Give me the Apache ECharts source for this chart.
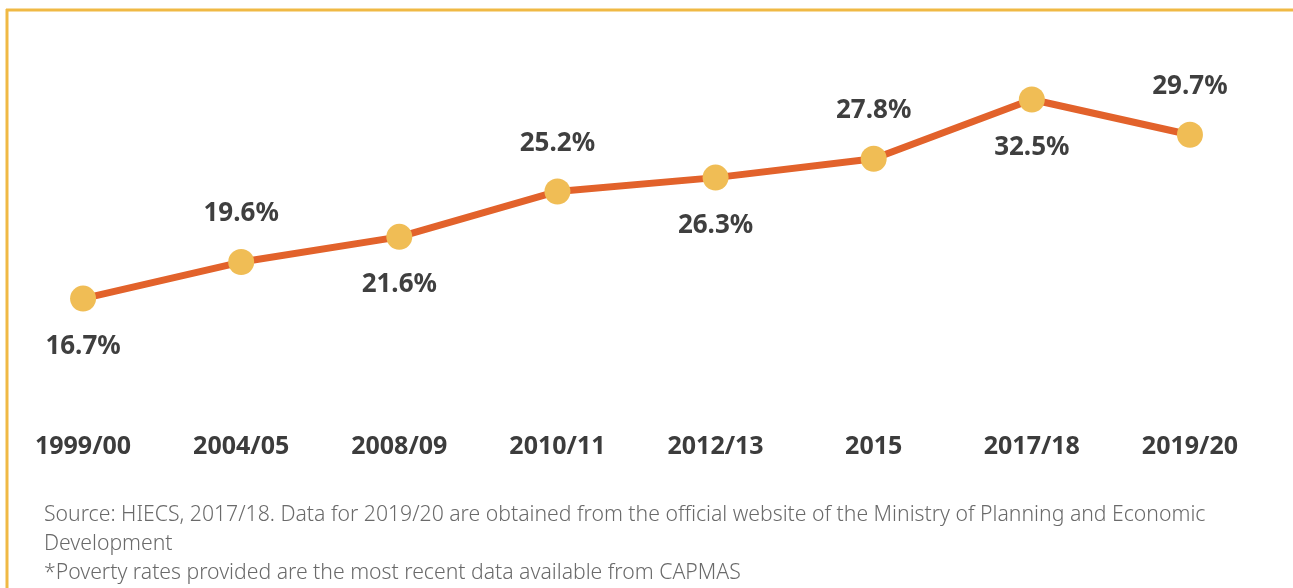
<!DOCTYPE html>
<html>
<head>
<meta charset="utf-8">
<script src="https://cdn.jsdelivr.net/npm/echarts@6/dist/echarts.min.js"></script>
<style>
html,body{margin:0;padding:0;background:#fff;}
#chart{width:1293px;height:588px;}
</style>
</head>
<body>
<div id="chart"></div>
<script>
const categories = ['1999/00','2004/05','2008/09','2010/11','2012/13','2015','2017/18','2019/20'];
const povertyRates = [16.7, 19.6, 21.6, 25.2, 26.3, 27.8, 32.5, 29.7];
const sourceLines = [
  'Source: HIECS, 2017/18. Data for 2019/20 are obtained from the official website of the Ministry of Planning and Economic',
  'Development',
  '*Poverty rates provided are the most recent data available from CAPMAS'
];

const chart = echarts.init(document.getElementById('chart'));
const font = '"Noto Sans", sans-serif';
const seriesData = povertyRates.map((v, i) => ({
  value: v,
  label: { position: i % 2 === 0 ? 'bottom' : 'top' }
}));

chart.setOption({
  animation: false,
  backgroundColor: '#ffffff',
  grid: { left: 4, right: 24, top: 68, bottom: 205, containLabel: false },
  xAxis: {
    type: 'category',
    data: categories,
    boundaryGap: true,
    axisLine: { show: false },
    axisTick: { show: false },
    splitLine: { show: false },
    axisLabel: {
      margin: 51,
      color: '#3c3c3c',
      fontFamily: font,
      fontWeight: 'bold',
      fontSize: 25,
      verticalAlign: 'top',
      lineHeight: 25
    }
  },
  yAxis: {
    type: 'value',
    min: 10,
    max: 35,
    show: false,
    splitLine: { show: false }
  },
  series: [{
    type: 'line',
    data: seriesData,
    symbol: 'circle',
    symbolSize: 26,
    lineStyle: { color: '#e2622b', width: 7 },
    itemStyle: { color: '#f0bd55', borderWidth: 0 },
    label: {
      show: true,
      distance: 22,
      color: '#3f3f3f',
      fontFamily: font,
      fontWeight: 'bold',
      fontSize: 26,
      formatter: p => p.value.toFixed(1) + '%'
    }
  }],
  graphic: [
    { type: 'line', shape: { x1: 6, y1: 10, x2: 1293, y2: 10 }, style: { stroke: '#f0b944', lineWidth: 3 } },
    { type: 'line', shape: { x1: 7, y1: 9, x2: 7, y2: 588 }, style: { stroke: '#f0b944', lineWidth: 3 } },
    {
      type: 'text', left: 44, top: 500,
      style: {
        text: sourceLines.join('\n'),
        fill: '#6a6a6a',
        font: '300 21.2px "Noto Sans", sans-serif',
        lineHeight: 29
      }
    }
  ]
});
</script>
</body>
</html>
